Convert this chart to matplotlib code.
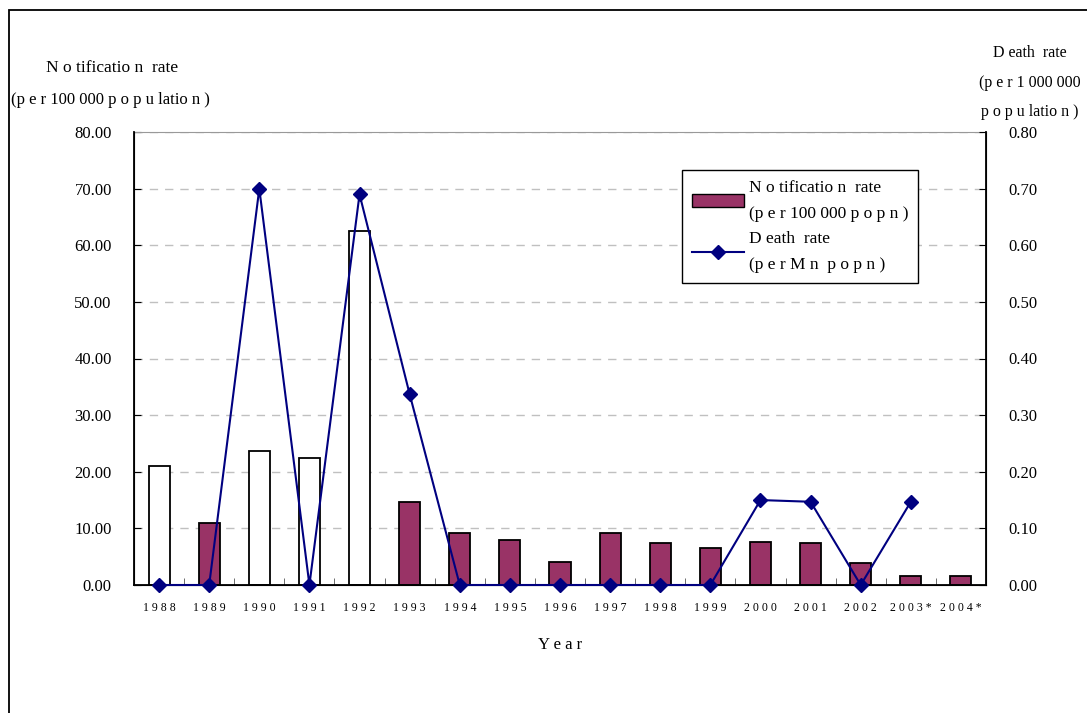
import matplotlib.pyplot as plt
import matplotlib.patches as mpatches
from matplotlib.lines import Line2D
import numpy as np

plt.rcParams['font.family'] = ['Liberation Serif', 'DejaVu Serif']

years = ["1988", "1989", "1990", "1991", "1992", "1993", "1994", "1995", "1996",
         "1997", "1998", "1999", "2000", "2001", "2002", "2003*", "2004*"]

# notification rate per 100 000 population
notification = [21.0, 10.9, 23.7, 22.5, 62.5, 14.7, 9.2, 7.9, 4.1,
                9.25, 7.4, 6.5, 7.6, 7.4, 3.8, 1.65, 1.65]

# death rate per 1 000 000 population
death = [0.0, 0.0, 0.70, 0.0, 0.69, 0.337, 0.0, 0.0, 0.0,
         0.0, 0.0, 0.0, 0.15, 0.147, 0.0, 0.147]

# years drawn as hollow bars in the original
hollow = ["1988", "1990", "1991", "1992"]

plum = "#993366"
navy = "#000080"

x = np.arange(len(years))

fig = plt.figure(figsize=(10.87, 7.13), dpi=100)
ax = fig.add_axes([134 / 1087, 1 - 585 / 713, (986 - 134) / 1087, (585 - 132) / 713])

colors = ["white" if y in hollow else plum for y in years]
ax.bar(x, notification, width=0.42, color=colors, edgecolor="black", linewidth=1.3, zorder=2)

ax.set_xlim(-0.5, len(years) - 0.5)
ax.set_ylim(0, 80)
ax.set_yticks(np.arange(0, 81, 10))
ax.set_yticklabels([f"{v:.2f}" for v in np.arange(0, 81, 10)], fontsize=12)
ax.set_xticks(x)
ax.set_xticklabels([" ".join(y) for y in years], fontsize=8.5)
ax.set_xticks(x[:-1] + 0.5, minor=True)
ax.tick_params(axis="x", which="major", length=0, pad=12)
ax.tick_params(axis="x", which="minor", direction="in", length=5, color="#555555")
ax.tick_params(axis="y", direction="in", length=5, pad=16)
ax.grid(axis="y", color="#c0c0c0", linestyle=(0, (6, 5)), linewidth=1)
ax.set_axisbelow(True)
ax.spines["top"].set_color("#999999")
ax.spines["left"].set_linewidth(1.3)
ax.spines["bottom"].set_linewidth(1.3)

ax2 = ax.twinx()
ax2.plot(x[:len(death)], death, color=navy, linewidth=1.5, marker="D", markersize=7,
         zorder=3, clip_on=False)
ax2.set_ylim(0, 0.8)
ax2.set_yticks(np.arange(0, 0.81, 0.1))
ax2.set_yticklabels([f"{v:.2f}" for v in np.arange(0, 0.81, 0.1)], fontsize=12)
ax2.tick_params(axis="y", direction="in", length=5, pad=16)
ax2.spines["top"].set_visible(False)
ax2.spines["right"].set_linewidth(1.3)

# axis titles
fig.text(112 / 1087, 1 - 68 / 713, "N o tificatio n  rate", ha="center", va="center", fontsize=12.5)
fig.text(110 / 1087, 1 - 100 / 713, "(p e r 100 000 p o p u latio n )", ha="center", va="center", fontsize=12)
fig.text(1030 / 1087, 1 - 53 / 713, "D eath  rate", ha="center", va="center", fontsize=11.5)
fig.text(1030 / 1087, 1 - 83 / 713, "(p e r 1 000 000", ha="center", va="center", fontsize=11.5)
fig.text(1030 / 1087, 1 - 112 / 713, "p o p u latio n )", ha="center", va="center", fontsize=11.5)
fig.text(560 / 1087, 1 - 645 / 713, "Y e a r", ha="center", va="center", fontsize=12)

# legend
handles = [mpatches.Patch(facecolor=plum, edgecolor="black"),
           Line2D([], [], color=navy, marker="D", markersize=7, linewidth=1.5)]
labels = ["N o tificatio n  rate\n(p e r 100 000 p o p n )", "D eath  rate\n(p e r M n  p o p n )"]
leg = ax2.legend(handles, labels, loc="upper left",
                 bbox_to_anchor=((682 - 134) / 852, 1 - (170 - 132) / 453),
                 borderaxespad=0, fontsize=12.5, frameon=True, fancybox=False,
                 edgecolor="black", framealpha=1, handlelength=3.0, handletextpad=0.3,
                 labelspacing=0.55, borderpad=0.55)
leg.get_frame().set_linewidth(1)
for t in leg.get_texts():
    t.set_linespacing(1.85)

# outer chart border (left and top edges visible)
fig.add_artist(mpatches.Rectangle((9 / 1087, -0.5), 2, 1.5 - 10 / 713, transform=fig.transFigure,
                                  fill=False, edgecolor="black", linewidth=1.3))

fig.savefig("out.png", dpi=100)
